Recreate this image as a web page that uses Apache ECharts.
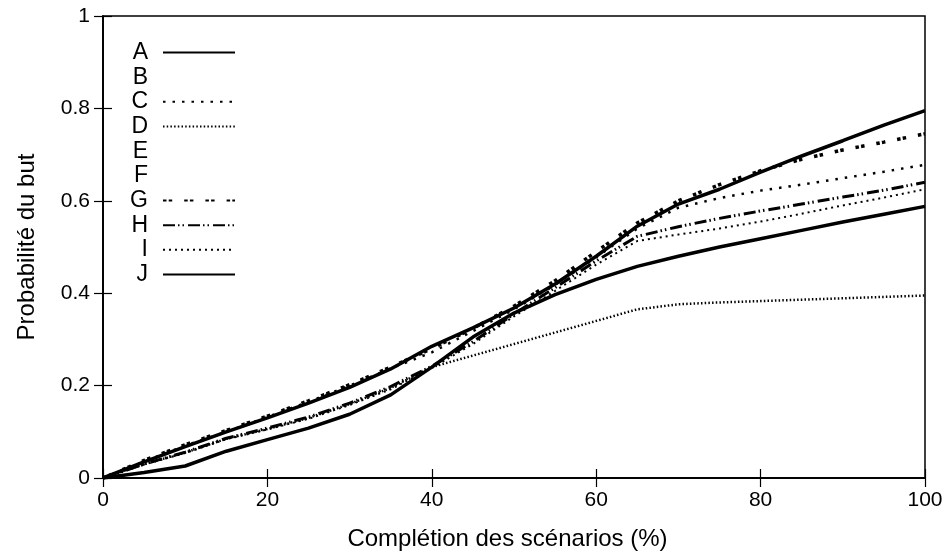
<!DOCTYPE html>
<html>
<head>
<meta charset="utf-8">
<script src="https://cdn.jsdelivr.net/npm/echarts@6/dist/echarts.min.js"></script>
<style>
	html, body { margin: 0; padding: 0; background: #fff; }
	#courbe { width: 951px; height: 556px; }
</style>
</head>
<body>
<div id="courbe"></div>
<script>
// abscisses communes (%)
var xs = [0, 5, 10, 15, 20, 25, 30, 35, 40, 45, 50, 55, 60, 65, 70, 75, 80, 85, 90, 95, 100];
var xTicks = [0, 20, 40, 60, 80, 100];
var yTicks = [0, 0.2, 0.4, 0.6, 0.8, 1];

var noms = ['A', 'B', 'C', 'D', 'E', 'F', 'G', 'H', 'I', 'J'];
var aVals = [0, 0.035, 0.068, 0.1, 0.13, 0.162, 0.196, 0.236, 0.285, 0.325, 0.368, 0.42, 0.48, 0.545, 0.593, 0.625, 0.662, 0.697, 0.73, 0.764, 0.795];
var bVals = [];
var cVals = [0, 0.036, 0.07, 0.1, 0.132, 0.165, 0.2, 0.237, 0.272, 0.318, 0.365, 0.418, 0.478, 0.54, 0.585, 0.606, 0.622, 0.635, 0.649, 0.663, 0.678];
var dVals = [0, 0.03, 0.055, 0.085, 0.106, 0.13, 0.16, 0.195, 0.24, 0.265, 0.29, 0.315, 0.34, 0.365, 0.376, 0.38, 0.383, 0.386, 0.389, 0.392, 0.395];
var eVals = [];
var fVals = [];
var gVals = [0, 0.038, 0.072, 0.103, 0.134, 0.167, 0.202, 0.24, 0.28, 0.324, 0.372, 0.427, 0.49, 0.552, 0.6, 0.635, 0.665, 0.69, 0.71, 0.727, 0.745];
var hVals = [0, 0.03, 0.056, 0.086, 0.108, 0.132, 0.162, 0.198, 0.242, 0.295, 0.355, 0.412, 0.47, 0.523, 0.544, 0.562, 0.578, 0.593, 0.608, 0.623, 0.64];
var iVals = [0, 0.029, 0.054, 0.084, 0.105, 0.128, 0.158, 0.192, 0.238, 0.29, 0.35, 0.405, 0.462, 0.513, 0.527, 0.54, 0.555, 0.572, 0.59, 0.607, 0.625];
var jVals = [0, 0.012, 0.026, 0.058, 0.083, 0.108, 0.138, 0.18, 0.24, 0.305, 0.357, 0.397, 0.43, 0.458, 0.48, 0.5, 0.518, 0.536, 0.554, 0.571, 0.588];

var valeurs = [aVals, bVals, cVals, dVals, eVals, fVals, gVals, hVals, iVals, jVals];

// style de trait de chaque courbe (B, E, F n'apparaissent pas)
var traits = [
	{ width: 3.5, type: 'solid' },
	{ width: 2, type: 'solid', color: 'rgba(0,0,0,0)' },
	{ width: 2.5, type: [2.5, 7] },
	{ width: 2.5, type: [1.5, 2.2] },
	{ width: 2, type: 'solid', color: 'rgba(0,0,0,0)' },
	{ width: 2, type: 'solid', color: 'rgba(0,0,0,0)' },
	{ width: 3.5, type: [3.5, 2.2, 3.5, 12] },
	{ width: 3, type: [12, 3, 1.5, 3, 1.5, 4] },
	{ width: 2, type: [2, 4] },
	{ width: 3.5, type: 'solid' }
];

function points(vals) {
	var res = [];
	for (var k = 0; k < vals.length; k++) {
		res.push([xs[k], vals[k]]);
	}
	return res;
}

var police = 'Liberation Sans, Arial, Helvetica, sans-serif';

var series = [];
for (var n = 0; n < noms.length; n++) {
	var ls = { color: traits[n].color || '#000', width: traits[n].width, type: traits[n].type, cap: 'butt' };
	series.push({
		name: noms[n],
		type: 'line',
		xAxisIndex: 0,
		yAxisIndex: 0,
		symbol: 'none',
		showSymbol: false,
		silent: true,
		animation: false,
		lineStyle: ls,
		itemStyle: { color: traits[n].color || '#000' },
		data: points(valeurs[n])
	});
}

var myChart = echarts.init(document.getElementById('courbe'));
var option = {
	backgroundColor: '#fff',
	animation: false,
	grid: {
		left: 103,
		right: 26,
		top: 16,
		bottom: 77,
		show: true,
		borderColor: '#000',
		borderWidth: 1.5,
		backgroundColor: '#fff'
	},
	legend: {
		orient: 'vertical',
		left: 119,
		top: 36,
		align: 'right',
		itemWidth: 72,
		itemHeight: 14,
		itemGap: 1.67,
		selectedMode: false,
		data: noms,
		itemStyle: { opacity: 0 },
		textStyle: {
			fontFamily: police,
			fontSize: 23,
			lineHeight: 20,
			color: '#000',
			width: 24,
			align: 'right',
			padding: [0, 10, 0, 0]
		}
	},
	xAxis: [{
		type: 'value',
		min: 0,
		max: 100,
		interval: 20,
		name: 'Complétion des scénarios (%)',
		nameLocation: 'middle',
		nameGap: 49,
		nameTextStyle: { fontFamily: police, fontSize: 24, color: '#000', padding: [0, 13, 0, 0] },
		axisLine: { lineStyle: { color: '#000', width: 1.5 } },
		axisTick: { inside: true, length: 9, lineStyle: { color: '#000', width: 1.2 } },
		axisLabel: { fontFamily: police, fontSize: 21, color: '#000', margin: 12 },
		splitLine: { show: false }
	}, {
		type: 'value',
		position: 'top',
		min: 0,
		max: 100,
		interval: 20,
		axisLine: { lineStyle: { color: '#000', width: 1.5 } },
		axisTick: { inside: true, length: 9, lineStyle: { color: '#000', width: 1.2 } },
		axisLabel: { show: false },
		splitLine: { show: false }
	}],
	yAxis: [{
		type: 'value',
		min: 0,
		max: 1,
		interval: 0.2,
		name: 'Probabilité du but',
		nameLocation: 'middle',
		nameGap: 64,
		nameTextStyle: { fontFamily: police, fontSize: 24, color: '#000' },
		axisLine: { show: true, lineStyle: { color: '#000', width: 1.5 } },
		axisTick: { show: true, inside: true, length: 9, lineStyle: { color: '#000', width: 1.2 } },
		axisLabel: { fontFamily: police, fontSize: 21, color: '#000', margin: 13 },
		splitLine: { show: false }
	}, {
		type: 'value',
		position: 'right',
		min: 0,
		max: 1,
		interval: 0.2,
		axisLine: { show: true, lineStyle: { color: '#000', width: 1.5 } },
		axisTick: { show: true, inside: true, length: 9, lineStyle: { color: '#000', width: 1.2 } },
		axisLabel: { show: false },
		splitLine: { show: false }
	}],
	series: series
};
myChart.setOption(option);
</script>
</body>
</html>
